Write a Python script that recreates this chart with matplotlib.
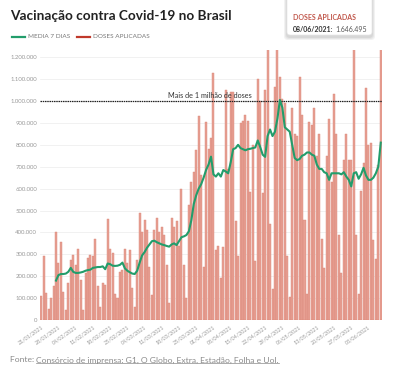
import matplotlib
matplotlib.use("Agg")
import matplotlib.pyplot as plt
import numpy as np
import pandas as pd
from matplotlib.patches import FancyBboxPatch
from matplotlib.lines import Line2D

plt.rcParams['font.family'] = ['Lato', 'DejaVu Sans']

# ---------------- data ----------------
dates = pd.date_range("2021-01-21", "2021-06-08", freq="D")

# daily doses (thousands)
doses_k = [
    110, 292, 122, 50, 102, 157, 402, 262, 358, 127, 46,
    167, 274, 296, 250, 322, 181, 46,
    213, 282, 297, 290, 368, 157, 58,
    167, 160, 460, 323, 308, 120, 100,
    220, 230, 323, 260, 320, 145, 60,
    274, 487, 403, 455, 410, 240, 114,
    410, 467, 400, 426, 390, 250, 76,
    467, 426, 450, 340, 600, 250, 100,
    525, 630, 677, 776, 933, 660, 240,
    905, 780, 830, 1130, 320, 340, 190,
    335, 1050, 690, 1040, 1040, 450, 290,
    900, 910, 936, 910, 586, 800, 270,
    1100, 1000, 580, 1050, 1300, 437, 140,
    1065, 1400, 1110, 1010, 990, 290, 106,
    970, 850, 840, 1110, 936, 457, 120,
    905, 890, 970, 750, 850, 370, 236,
    750, 920, 630, 1030, 850, 390, 216,
    730, 850, 730, 730, 1300, 390, 120,
    590, 715, 1060, 800, 807, 365, 277,
    710, 1646.495,
]

# 7-day average (hundreds of thousands), starting on 27/01/2021
media7 = [
    1.80, 2.05, 2.10, 2.10, 2.12, 2.20, 2.38, 2.20, 2.15, 2.15,
    2.17, 2.20, 2.25, 2.28, 2.30, 2.38, 2.40, 2.42, 2.42, 2.45,
    2.32, 2.58, 2.55, 2.48, 2.47, 2.48, 2.52, 2.62, 2.36, 2.25,
    2.18, 2.12, 2.10, 2.25, 2.62, 2.95, 3.10, 3.30, 3.45, 3.60,
    3.62, 3.55, 3.50, 3.45, 3.42, 3.38, 3.35, 3.45, 3.50, 3.42,
    3.60, 3.78, 3.82, 3.88, 4.05, 4.55, 5.30, 5.70, 6.00, 6.20,
    6.50, 6.85, 7.10, 7.46, 6.65, 6.55, 6.70, 6.55, 6.85, 6.78,
    6.70, 7.20, 7.80, 7.85, 8.00, 7.85, 7.80, 7.75, 7.80, 7.82,
    7.85, 7.88, 8.20, 7.90, 7.55, 7.45, 8.40, 8.70, 8.40, 8.60,
    9.20, 10.05, 9.70, 8.80, 8.70, 8.60, 8.00, 7.40, 7.30, 7.35,
    7.50, 7.55, 7.65, 7.65, 7.55, 7.50, 7.10, 6.90, 6.90, 6.75,
    6.70, 6.40, 6.70, 6.70, 6.70, 6.70, 6.65, 6.75, 6.55, 6.40,
    6.10, 6.70, 6.75, 6.45, 6.65, 6.95, 6.60, 6.40, 6.40, 6.50,
    6.70, 7.00, 8.10,
]

tick_labels = ["21/01/2021", "28/01/2021", "04/02/2021", "11/02/2021", "18/02/2021",
               "25/02/2021", "04/03/2021", "11/03/2021", "18/03/2021", "25/03/2021",
               "01/04/2021", "08/04/2021", "15/04/2021", "22/04/2021", "29/04/2021",
               "06/05/2021", "13/05/2021", "20/05/2021", "27/05/2021", "03/06/2021"]
yticks = [0, 100000, 200000, 300000, 400000, 500000, 600000,
          700000, 800000, 900000, 1000000, 1100000, 1200000]

GREEN = '#229d6b'
RED = '#c0392b'
BAR = '#e8a194'
BAR_EDGE = '#d98475'

W, H = 400, 371
fig = plt.figure(figsize=(W / 100, H / 100), dpi=100)
fig.patch.set_facecolor('white')

def fx(px):
    return px / W

def fy(py):
    return 1 - py / H

ax = fig.add_axes([fx(40), fy(320), fx(382) - fx(40), fy(50) - fy(320)])
x = np.arange(len(doses_k))
doses = np.array(doses_k) * 1000
ax.bar(x, doses, width=0.82, color=BAR, edgecolor=BAR_EDGE, linewidth=0.3, zorder=2)
ma = np.array(media7) * 100000
ax.plot(x[len(x) - len(ma):], ma, color=GREEN, lw=1.5, zorder=4, solid_joinstyle='round')

ax.set_xlim(-0.5, len(x) - 0.5)
ax.set_ylim(0, 1233000)
ax.set_yticks(yticks)
ax.set_yticklabels([f"{v:,}".replace(',', '.') for v in yticks])
ax.yaxis.grid(True, color='#ebebeb', lw=0.5, zorder=0)
ax.set_axisbelow(True)
for s in ax.spines.values():
    s.set_visible(False)
ax.tick_params(axis='y', length=0, pad=2, labelsize=4.3, labelcolor='#9a9a9a')
ax.set_xticks(x[::7])
ax.set_xticklabels(tick_labels, rotation=35, ha='right', rotation_mode='anchor')
ax.tick_params(axis='x', length=0, pad=3, labelsize=3.9, labelcolor='#9a9a9a')

# 1 million reference line
ax.axhline(1000000, color='#222222', lw=0.9, ls=(0, (1.2, 0.6)), zorder=3)
ax.text(68.7, 1027000, "Mais de 1 milhão de doses", fontsize=5.2, color='#333333',
        ha='center', va='center', zorder=5)

# title
fig.text(fx(10), fy(16), "Vacinação contra Covid-19 no Brasil", fontsize=9.8,
         fontweight='bold', color='#222222', va='center', ha='left')

# legend
fig.add_artist(Line2D([fx(12), fx(25)], [fy(37), fy(37)], color=GREEN, lw=1.6))
fig.text(fx(28), fy(37), "MEDIA 7 DIAS", fontsize=4.6, color='#777777', va='center')
fig.add_artist(Line2D([fx(77), fx(90)], [fy(37), fy(37)], color=RED, lw=1.6))
fig.text(fx(93), fy(37), "DOSES APLICADAS", fontsize=4.6, color='#777777', va='center')

# tooltip box with soft shadow
for k, a in enumerate([0.05, 0.05, 0.06]):
    pad = 3 - k
    sh = FancyBboxPatch((fx(287 - pad), fy(37 + pad)), fx(85 + 2 * pad), fy(0) - fy(45 + 2 * pad),
                        boxstyle="round,pad=0,rounding_size=0.01", transform=fig.transFigure,
                        facecolor='#000000', edgecolor='none', alpha=a, zorder=8)
    fig.add_artist(sh)
box = FancyBboxPatch((fx(287), fy(35)), fx(85), fy(0) - fy(43),
                     boxstyle="round,pad=0,rounding_size=0.008", transform=fig.transFigure,
                     facecolor='white', edgecolor='#e6e6e6', lw=0.5, zorder=9)
fig.add_artist(box)
fig.text(fx(293), fy(18), "DOSES APLICADAS", fontsize=5.0, color='#c0564a',
         fontweight='bold', va='center', zorder=10)
t1 = fig.text(fx(293), fy(29), "08/06/2021:", fontsize=5.0, color='#333333',
              fontweight='bold', va='center', zorder=10)

# footer
t_f = fig.text(fx(10), fy(360), "Fonte: ", fontsize=6.1, color='#8a8a8a', va='center')

fig.canvas.draw()
r = fig.canvas.get_renderer()
bb = t1.get_window_extent(r)
fig.text(bb.x1 / W + fx(1.5), fy(29), "1.646.495", fontsize=5.0, color='#555555',
         va='center', zorder=10)
bbf = t_f.get_window_extent(r)
t_u = fig.text(bbf.x1 / W, fy(360), "Consórcio de imprensa: G1, O Globo, Extra, Estadão, Folha e Uol.",
               fontsize=6.1, color='#8a8a8a', va='center')
fig.canvas.draw()
bbu = t_u.get_window_extent(r)
fig.add_artist(Line2D([bbu.x0 / W, bbu.x1 / W], [bbu.y0 / H + 0.001, bbu.y0 / H + 0.001],
                      color='#8a8a8a', lw=0.5))

fig.savefig("out.png", dpi=100, facecolor='white')
